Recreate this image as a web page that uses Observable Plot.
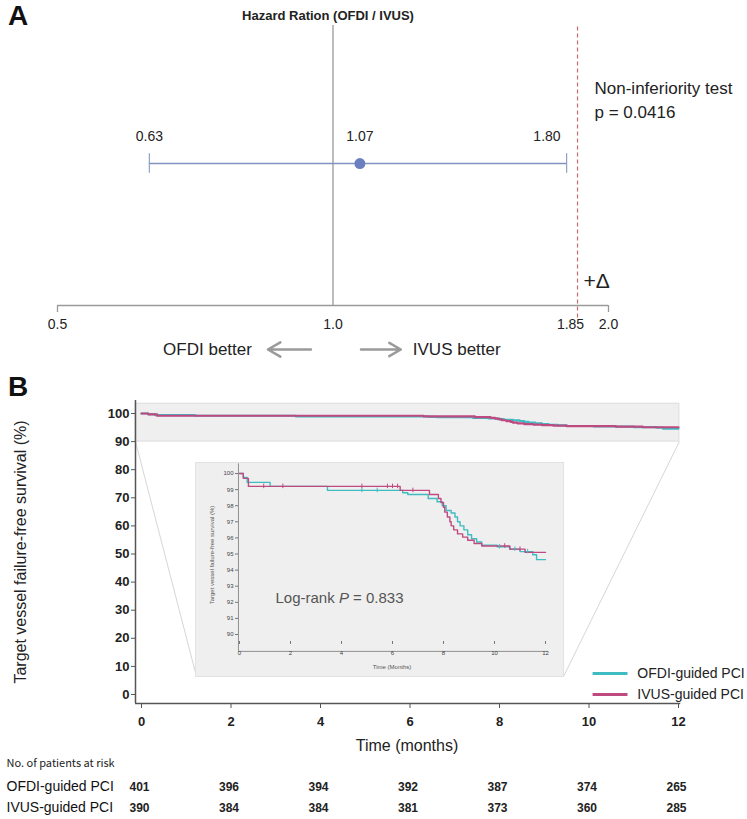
<!DOCTYPE html>
<html><head><meta charset="utf-8">
<script src="https://cdn.jsdelivr.net/npm/d3@7"></script>
<script src="https://cdn.jsdelivr.net/npm/@observablehq/plot@0.6"></script>
<style>
html,body{margin:0;padding:0;background:#fff;}
#root{position:relative;width:747px;height:819px;overflow:hidden;font-family:"Liberation Sans",Arial,sans-serif;background:#fff;}
#root > *{position:absolute;}
.panel{font-weight:bold;font-size:28px;color:#111;line-height:1;}
</style></head><body><div id="root"></div>
<script>
// ---------------- DATA ----------------
// Panel A: hazard ratio (OFDI / IVUS)
const hrTitle = "Hazard Ration (OFDI / IVUS)";
const hrEstimate = [1.07];
const hrLower = [0.63];
const hrUpper = [1.80];
const niMargin = [1.85];
const hrTicks = [0.5, 1.0, 2.0];
const hrTickLabels = ["0.5", "1.0", "2.0"];
const niTickLabel = ["1.85"];
const niLines = ["Non-inferiority test", "p = 0.0416"];
const betterLabels = ["OFDI better", "IVUS better"];

// Panel B: Kaplan-Meier (target vessel failure-free survival, %)
const groups = ["OFDI-guided PCI", "IVUS-guided PCI"];
const ofdiTime = [0, 0.15, 0.3, 1.2, 3.45, 6.4, 6.6, 7.4, 7.75, 7.95, 8.1, 8.3, 8.45, 8.55, 8.65, 8.8, 8.95, 9.1, 9.3, 9.5, 10.1, 10.6, 11.0, 11.5, 11.65, 12];
const ofdiSurv = [100, 99.75, 99.45, 99.2, 98.95, 98.8, 98.7, 98.45, 98.25, 98.0, 97.7, 97.55, 97.3, 97.0, 96.75, 96.5, 96.2, 95.95, 95.75, 95.55, 95.45, 95.3, 95.15, 94.95, 94.65, 94.65];
const ivusTime = [0, 0.15, 0.35, 6.3, 7.45, 7.8, 7.9, 8.0, 8.05, 8.15, 8.25, 8.3, 8.4, 8.55, 8.75, 8.95, 9.2, 9.5, 10.6, 11.2, 12];
const ivusSurv = [100, 99.7, 99.2, 98.95, 98.7, 98.45, 98.2, 97.9, 97.6, 97.3, 97.0, 96.75, 96.5, 96.25, 96.05, 95.85, 95.65, 95.5, 95.3, 95.1, 95.1];
const ofdiCensor = [4.8, 5.4, 10.2, 10.8, 11.3];
const ivusCensor = [0.95, 1.7, 4.8, 5.8, 6.0, 6.2, 6.8, 10.4, 11.0];
const monthTicks = [0, 2, 4, 6, 8, 10, 12];
const survTicks = [0, 10, 20, 30, 40, 50, 60, 70, 80, 90, 100];
const insetTicks = [90, 91, 92, 93, 94, 95, 96, 97, 98, 99, 100];
const logRankP = "0.833";
const yLabel = "Target vessel failure-free survival (%)";
const xLabel = "Time (months)";
const insetXLabel = "Time (Months)";
const riskHeader = "No. of patients at risk";
const riskOFDI = [401, 396, 394, 392, 387, 374, 265];
const riskIVUS = [390, 384, 384, 381, 373, 360, 285];

// ---------------- STYLE / LAYOUT ----------------
const W = 747;
const FONT = "Liberation Sans, Arial, sans-serif";
const CYAN = "#3fbcc2", MAGENTA = "#bf4a80";
const root = document.getElementById("root");

function place(el, left, top) { el.style.left = left + "px"; el.style.top = top + "px"; root.appendChild(el); return el; }
function label(txt, left, top) { const d = document.createElement("div"); d.className = "panel"; d.textContent = txt; return place(d, left, top); }

// ---------------- PANEL A ----------------
const ciRow = 0.507;
const ci = hrEstimate.map((e, i) => ({est: e, lo: hrLower[i], hi: hrUpper[i]}));
const plotA = Plot.plot({
  width: W, height: 375,
  marginLeft: 57, marginRight: 139, marginTop: 25, marginBottom: 70,
  x: {type: "log", domain: [0.5, 2]},
  y: {domain: [0, 1], axis: null},
  style: {fontFamily: FONT, color: "#222", background: "transparent", overflow: "visible"},
  marks: [
    Plot.ruleX([1], {y1: 0, y2: 1, stroke: "#7a7a7a", strokeWidth: 1}),
    Plot.ruleX(niMargin, {y1: -0.045, y2: 1, stroke: "#c46a70", strokeDasharray: "4,3", strokeWidth: 1.2}),
    Plot.ruleY([0], {x1: 0.5, x2: 2, stroke: "#9a9a9a", strokeWidth: 1.3}),
    Plot.ruleX([0.5, 2], {y1: 0, y2: -0.025, stroke: "#9a9a9a", strokeWidth: 1.3}),
    Plot.axisX(hrTicks, {tickSize: 0, tickPadding: 14, fontSize: 14, label: null, tickFormat: d => hrTickLabels[hrTicks.indexOf(d)]}),
    Plot.axisX(niMargin, {tickSize: 0, tickPadding: 14, fontSize: 14, label: null, dx: -7, tickFormat: () => niTickLabel[0]}),
    // CI
    Plot.ruleY(ci, {x1: "lo", x2: "hi", y: ciRow, stroke: "#7f93c0", strokeWidth: 1.5}),
    Plot.ruleX(ci.flatMap(d => [d.lo, d.hi]), {y1: ciRow - 0.035, y2: ciRow + 0.035, stroke: "#8fa0c8", strokeWidth: 1.2}),
    Plot.dot(ci, {x: "est", y: ciRow, r: 5.5, fill: "#6a7fbf", stroke: "none"}),
    Plot.text(ci, {x: "lo", y: ciRow, dy: -27, text: d => d.lo.toFixed(2), fontSize: 14}),
    Plot.text(ci, {x: "est", y: ciRow, dy: -27, text: d => d.est.toFixed(2), fontSize: 14}),
    Plot.text(ci, {x: "hi", y: ciRow, dy: -27, dx: -6, textAnchor: "end", text: d => d.hi.toFixed(2), fontSize: 14}),
    // annotations
    Plot.text(niLines, {x: niMargin[0], y: (d, i) => 0.775 - i * 0.086, dx: 17, textAnchor: "start", text: d => d, fontSize: 17, fill: "#222"}),
    Plot.text(["+Δ"], {x: niMargin[0], y: 0.086, dx: 6, textAnchor: "start", fontSize: 21, fill: "#222"}),
    Plot.text([hrTitle], {frameAnchor: "top", dx: -5, dy: -15, fontSize: 13, fontWeight: "bold", fill: "#222"}),
    Plot.arrow([0], {x1: 0.946, x2: 0.849, y1: -0.157, y2: -0.157, stroke: "#9a9a9a", strokeWidth: 2.5, headLength: 9}),
    Plot.arrow([0], {x1: 1.073, x2: 1.186, y1: -0.157, y2: -0.157, stroke: "#9a9a9a", strokeWidth: 2.5, headLength: 9}),
    Plot.text([betterLabels[0]], {x: 0.849, y: -0.157, dx: -16, textAnchor: "end", fontSize: 17, fill: "#222"}),
    Plot.text([betterLabels[1]], {x: 1.186, y: -0.157, dx: 12, textAnchor: "start", fontSize: 17, fill: "#222"})
  ]
});
place(plotA, 0, 0);
label("A", 8, 2);

// ---------------- PANEL B ----------------
const km = [
  ...ofdiTime.map((t, i) => ({group: groups[0], time: t, surv: ofdiSurv[i]})),
  ...ivusTime.map((t, i) => ({group: groups[1], time: t, surv: ivusSurv[i]}))
];
function survAt(times, surv, t) { let s = surv[0]; for (let i = 0; i < times.length; i++) if (times[i] <= t) s = surv[i]; return s; }
const censor = [
  ...ofdiCensor.map(t => ({group: groups[0], time: t, surv: survAt(ofdiTime, ofdiSurv, t)})),
  ...ivusCensor.map(t => ({group: groups[1], time: t, surv: survAt(ivusTime, ivusSurv, t)}))
];
const BX0 = -0.134, BX1 = 12.02;          // band / axis extents (month units)
const inset = {x1: 1.229, x2: 9.43, yBottom: 6.4};
const legendY = [7.5, 0];
const riskRows = [riskOFDI, riskIVUS];

const plotB = Plot.plot({
  width: W, height: 444,
  marginLeft: 135, marginRight: 69, marginTop: 25, marginBottom: 116,
  x: {domain: [0, 12], insetLeft: 6},
  y: {domain: [0, 100], insetTop: 13, insetBottom: 9},
  color: {domain: groups, range: [CYAN, MAGENTA]},
  style: {fontFamily: FONT, color: "#222", background: "transparent", overflow: "visible"},
  marks: [
    Plot.rect([0], {x1: BX0, x2: BX1, y1: 90, y2: 103.5, fill: "#efefef", stroke: "#dddddd", strokeWidth: 1}),
    Plot.link([{a: BX0, b: inset.x1}, {a: BX1, b: inset.x2}], {x1: "a", y1: 90, x2: "b", y2: inset.yBottom, stroke: "#d6d6d6", strokeWidth: 1}),
    Plot.ruleX([BX0], {y1: -3.2, y2: 104.6, stroke: "#555", strokeWidth: 1.5}),
    Plot.ruleY([-3.2], {x1: BX0, x2: 12.05, stroke: "#555", strokeWidth: 1.5}),
    Plot.axisY(survTicks, {anchor: "left", tickSize: 4, tickPadding: 2, fontSize: 13, fontWeight: "bold", label: null, stroke: "#555"}),
    Plot.axisX(monthTicks, {anchor: "bottom", tickSize: 5, tickPadding: 8, fontSize: 13, fontWeight: "bold", label: null, stroke: "#555"}),
    Plot.line(km, {x: "time", y: "surv", stroke: "group", curve: "step-after", strokeWidth: 2.2}),
    Plot.text([yLabel], {frameAnchor: "left", textAnchor: "middle", dx: -115, rotate: -90, fontSize: 16, fill: "#222"}),
    Plot.text([xLabel], {frameAnchor: "bottom", dy: 47, fontSize: 16, fill: "#222"}),
    // legend
    Plot.link(groups, {x1: 10.08, x2: 10.86, y1: (d, i) => legendY[i], y2: (d, i) => legendY[i], stroke: d => d, strokeWidth: 3}),
    Plot.text(groups, {x: 11.08, y: (d, i) => legendY[i], text: d => d, textAnchor: "start", fontSize: 14, fill: "#222"}),
    // risk table
    Plot.text([riskHeader], {frameAnchor: "bottom-left", dx: -129, dy: 63, textAnchor: "start", fontSize: 11, fontFamily: "Noto Sans CJK JP, Noto Sans, sans-serif", fill: "#222"}),
    ...groups.map((g, gi) => Plot.text([g], {frameAnchor: "bottom-left", dx: -129, dy: 87 + gi * 21, textAnchor: "start", fontSize: 14, fill: "#111"})),
    ...riskRows.map((row, gi) => Plot.text(row, {x: (d, i) => monthTicks[i], frameAnchor: "bottom", dx: -2, dy: 87 + gi * 21, text: d => String(d), fontSize: 12, fontWeight: "bold", fill: "#222"}))
  ]
});
place(plotB, 0, 375);
label("B", 8, 373);

// ---------------- INSET ----------------
const plotI = Plot.plot({
  width: 367, height: 213,
  marginLeft: 42, marginRight: 18, marginTop: 5, marginBottom: 35,
  x: {domain: [0, 12], insetLeft: 1},
  y: {domain: [90, 100], insetTop: 5, insetBottom: 7},
  color: {domain: groups, range: [CYAN, MAGENTA]},
  style: {fontFamily: FONT, color: "#444", background: "#efefef", overflow: "visible"},
  marks: [
    Plot.ruleX([-0.04], {y1: 88.95, y2: 100.6, stroke: "#777", strokeWidth: 0.8}),
    Plot.ruleY([88.95], {x1: -0.04, x2: 12.1, stroke: "#777", strokeWidth: 0.8}),
    Plot.axisY(insetTicks, {anchor: "left", tickSize: 3, tickPadding: 2, fontSize: 6, label: null, stroke: "#777"}),
    Plot.axisX(monthTicks, {anchor: "bottom", tickSize: 3, tickPadding: 6, fontSize: 6, label: null, stroke: "#777"}),
    Plot.line(km, {x: "time", y: "surv", stroke: "group", curve: "step-after", strokeWidth: 1.4}),
    Plot.ruleX(censor, {x: "time", y1: d => d.surv - 0.14, y2: d => d.surv + 0.14, stroke: "group", strokeWidth: 1}),
    Plot.text([insetXLabel], {frameAnchor: "bottom", dy: 27, fontSize: 6, fill: "#555"}),
    Plot.text([yLabel], {frameAnchor: "left", textAnchor: "middle", dx: -26, rotate: -90, fontSize: 6, fill: "#555"}),
    Plot.text(["Log-rank P = " + logRankP], {frameAnchor: "top-left", dx: 37, dy: 124, textAnchor: "start", fontSize: 15, fill: "#555"})
  ]
});
plotI.style.outline = "1px solid #e2e2e2";
place(plotI, 196, 463);

// italic P in log-rank text
plotI.querySelectorAll("text").forEach(t => {
  if (t.textContent.startsWith("Log-rank")) {
    const ns = "http://www.w3.org/2000/svg";
    t.textContent = "";
    const parts = [["Log-rank ", "normal"], ["P", "italic"], [" = " + logRankP, "normal"]];
    for (const [s, st] of parts) { const ts = document.createElementNS(ns, "tspan"); ts.textContent = s; ts.setAttribute("font-style", st); t.appendChild(ts); }
  }
});
</script></body></html>
